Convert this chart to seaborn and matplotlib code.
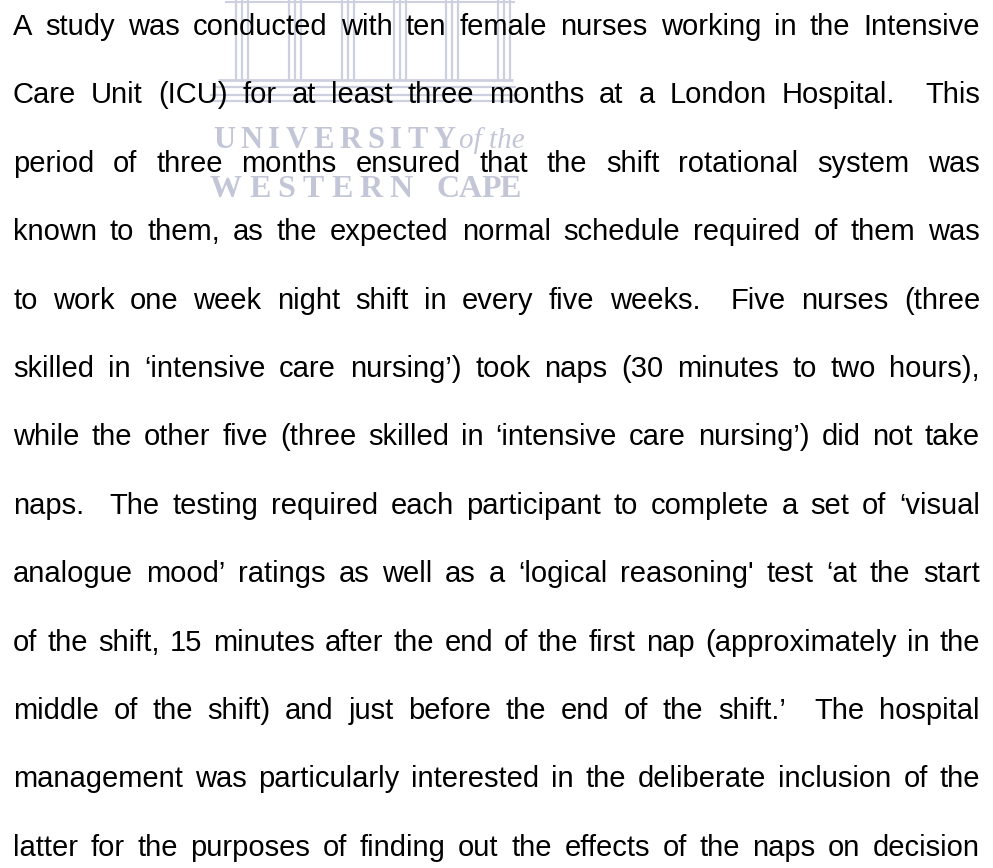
import seaborn as sns
import matplotlib.pyplot as plt

# paragraph, one entry per printed line (text is justified)
lines = [
    "A study was conducted with ten female nurses working in the Intensive",
    "Care Unit (ICU) for at least three months at a London Hospital.  This",
    "period of three months ensured that the shift rotational system was",
    "known to them, as the expected normal schedule required of them was",
    "to work one week night shift in every five weeks.  Five nurses (three",
    "skilled in \u2018intensive care nursing\u2019) took naps (30 minutes to two hours),",
    "while the other five (three skilled in \u2018intensive care nursing\u2019) did not take",
    "naps.  The testing required each participant to complete a set of \u2018visual",
    "analogue mood\u2019 ratings as well as a \u2018logical reasoning' test \u2018at the start",
    "of the shift, 15 minutes after the end of the first nap (approximately in the",
    "middle of the shift) and just before the end of the shift.\u2019  The hospital",
    "management was particularly interested in the deliberate inclusion of the",
    "latter for the purposes of finding out the effects of the naps on decision",
]

# watermark words
wm_top = ["UNIVERSITY", "of the"]
wm_bottom = ["WESTERN", "CAPE"]

W, H = 993, 868
LEFT, RIGHT = 13, 980
FIRST_BASE, LEADING = 35, 68.4
WM_COL = "#c3c6d7"
WM_LINE = "#cdd0de"

sns.set_theme(style="white")
plt.rcParams["font.family"] = ["Liberation Sans", "DejaVu Sans"]

fig = plt.figure(figsize=(W / 100, H / 100), dpi=100)
ax = fig.add_axes([0, 0, 1, 1])
ax.set_xlim(0, W)
ax.set_ylim(H, 0)
ax.axis("off")
renderer = fig.canvas.get_renderer()


def width_of(s, **kw):
    if not s:
        return 0
    t = ax.text(0, 0, s, **kw)
    w = t.get_window_extent(renderer).width
    t.remove()
    return w


def justify(words, y, left, right, **kw):
    widths = [width_of(w, **kw) for w in words]
    gap = (right - left - sum(widths)) / max(len(words) - 1, 1)
    x = left
    for w, wd in zip(words, widths):
        if w:
            ax.text(x, y, w, ha="left", va="baseline", **kw)
        x += wd + gap


# --- watermark: faint crest (columns + steps) behind the first lines ---
for gx in [236, 289, 342, 394, 446, 498]:
    ax.vlines([gx, gx + 6, gx + 12], 0, 80, color=WM_LINE, lw=1.6, zorder=1)
ax.hlines(2, 225, 515, color=WM_LINE, lw=1.5, zorder=1)
ax.hlines(80, 218, 513, color=WM_LINE, lw=2, zorder=1)
ax.hlines(87, 214, 516, color=WM_LINE, lw=1.6, zorder=1)
ax.hlines([95, 101], 210, 520, color=WM_LINE, lw=1.6, zorder=1)

serif = ["Liberation Serif", "DejaVu Serif"]
justify(list(wm_top[0]), 148, 213, 455, family=serif, fontsize=22,
        fontweight="bold", color=WM_COL, zorder=1)
ax.text(459, 148, wm_top[1], family=serif, fontsize=21, style="italic",
        color=WM_COL, ha="left", va="baseline", zorder=1)
justify(list(wm_bottom[0]), 197, 210, 413, family=serif, fontsize=23,
        fontweight="bold", color=WM_COL, zorder=1)
justify(list(wm_bottom[1]), 197, 437, 521, family=serif, fontsize=23,
        fontweight="bold", color=WM_COL, zorder=1)

# --- body text ---
for i, line in enumerate(lines):
    justify(line.split(" "), FIRST_BASE + i * LEADING, LEFT, RIGHT,
            fontsize=21, color="#000000", zorder=3)

fig.savefig("out.png", dpi=100, facecolor="white")
